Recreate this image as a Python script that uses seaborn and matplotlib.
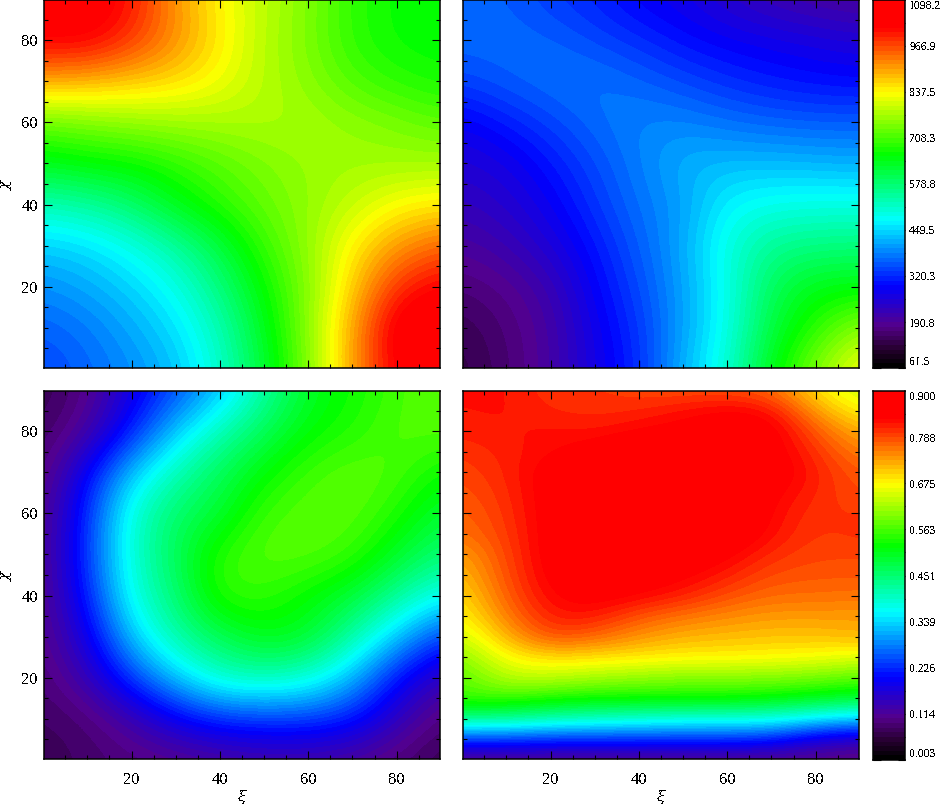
import numpy as np
import seaborn as sns
import matplotlib
matplotlib.use("Agg")
import matplotlib.pyplot as plt
from matplotlib.colors import LinearSegmentedColormap
from matplotlib.ticker import MultipleLocator

# grid positions (degrees), rows of the tables below run from chi low to chi high
grid = [0, 10, 20, 30, 40, 50, 60, 70, 80, 90]
grid_fine = [0, 5, 10, 15, 20, 25, 30, 35, 40, 45, 50, 55, 60, 65, 70, 75, 80, 85, 90]

top_left = [
    [340, 365, 395, 430, 510, 625, 745, 905, 1040, 1060],
    [360, 380, 415, 455, 530, 640, 755, 900, 1060, 1080],
    [395, 415, 445, 490, 570, 665, 750, 870, 990, 1030],
    [440, 455, 490, 545, 615, 700, 760, 845, 910, 950],
    [530, 545, 585, 645, 690, 730, 760, 795, 835, 850],
    [640, 660, 665, 690, 720, 745, 765, 770, 770, 770],
    [730, 745, 760, 770, 775, 780, 775, 760, 745, 725],
    [900, 890, 875, 860, 830, 785, 755, 715, 690, 675],
    [1030, 1035, 985, 920, 850, 785, 745, 690, 665, 660],
    [1060, 1060, 1010, 910, 840, 790, 750, 690, 665, 660],
]
top_right = [
    [130, 160, 200, 268, 320, 425, 505, 650, 750, 840],
    [140, 165, 200, 275, 330, 410, 490, 620, 690, 760],
    [165, 180, 215, 290, 345, 410, 490, 600, 650, 650],
    [195, 215, 255, 305, 360, 415, 500, 560, 570, 575],
    [225, 245, 280, 330, 375, 405, 475, 490, 495, 495],
    [250, 265, 305, 345, 385, 425, 430, 430, 425, 420],
    [280, 310, 340, 370, 390, 390, 375, 365, 360, 360],
    [340, 360, 375, 380, 365, 345, 325, 310, 300, 295],
    [370, 370, 365, 345, 325, 300, 285, 275, 265, 255],
    [365, 360, 335, 315, 285, 270, 240, 215, 200, 190],
]
bottom_left = [
    [.07, .085, .095, .10, .11, .12, .12, .11, .09, .07],
    [.08, .09, .13, .19, .23, .24, .24, .22, .15, .09],
    [.09, .14, .24, .33, .40, .41, .39, .32, .21, .14],
    [.10, .18, .33, .42, .47, .515, .50, .42, .33, .24],
    [.10, .22, .38, .45, .555, .55, .52, .49, .43, .37],
    [.10, .24, .39, .47, .55, .575, .575, .555, .50, .45],
    [.10, .23, .39, .46, .49, .56, .575, .575, .54, .49],
    [.09, .20, .33, .41, .47, .52, .56, .58, .565, .525],
    [.08, .12, .22, .33, .41, .47, .52, .54, .57, .57],
    [.07, .10, .18, .25, .32, .42, .50, .53, .56, .58],
]
bottom_right = [
    [.10, .10, .10, .10, .10, .10, .10, .10, .10, .09],
    [.24, .24, .23, .23, .23, .23, .23, .22, .17, .15],
    [.43, .43, .41, .40, .39, .38, .38, .38, .35, .33],
    [.56, .56, .54, .53, .53, .53, .53, .52, .505, .49],
    [.57, .635, .635, .62, .61, .60, .60, .60, .59, .575],
    [.60, .675, .695, .69, .685, .68, .68, .675, .67, .655],
    [.64, .72, .79, .77, .74, .72, .715, .71, .71, .72],
    [.67, .755, .82, .82, .78, .76, .745, .735, .735, .735],
    [.69, .775, .835, .85, .835, .815, .785, .765, .765, .76],
    [.71, .785, .845, .87, .86, .84, .815, .785, .78, .78],
    [.73, .79, .85, .88, .88, .87, .84, .805, .79, .79],
    [.76, .795, .85, .88, .89, .89, .87, .825, .795, .805],
    [.77, .80, .85, .88, .89, .89, .89, .83, .80, .80],
    [.78, .805, .85, .88, .89, .89, .89, .84, .81, .785],
    [.79, .81, .85, .88, .89, .89, .89, .86, .815, .775],
    [.80, .815, .83, .85, .88, .88, .87, .85, .805, .75],
    [.815, .82, .825, .82, .835, .845, .86, .855, .78, .72],
    [.82, .825, .81, .805, .81, .825, .84, .83, .735, .675],
    [.825, .825, .80, .80, .79, .785, .785, .77, .69, .64],
]

top_labels = ["1098.2", "966.9", "837.5", "708.3", "578.8", "449.5", "320.3", "190.8", "61.5"]
bottom_labels = ["0.900", "0.788", "0.675", "0.563", "0.451", "0.339", "0.226", "0.114", "0.003"]
top_range = (61.5, 1098.2)
bottom_range = (0.003, 0.900)

N_BANDS = 80
W, H = 942, 806

sns.set_theme(style="ticks")
plt.rcParams["font.family"] = ["Liberation Serif"]
plt.rcParams["text.antialiased"] = False
plt.rcParams["lines.antialiased"] = False

rainbow = LinearSegmentedColormap.from_list("rainbow_idl", [
    (0.0, (0, 0, 0)), (0.05, (0.16, 0, 0.2)), (0.11, (0.33, 0, 0.55)),
    (0.22, (0, 0, 1)), (0.40, (0, 1, 1)), (0.58, (0, 1, 0)),
    (0.75, (1, 1, 0)), (0.93, (1, 0, 0)), (1.0, (1, 0, 0))], N=N_BANDS)


def pixel_axes(x0, y0, x1, y1):
    return fig.add_axes([x0 / W, 1 - y1 / H, (x1 - x0) / W, (y1 - y0) / H])


def panel(rect, xs, ys, vals, vrange, xlabel, ylabel):
    ax = pixel_axes(*rect)
    dx = (xs[1] - xs[0]) / 2
    dy = (ys[1] - ys[0]) / 2
    ax.imshow(vals, origin="lower", extent=(xs[0] - dx, xs[-1] + dx, ys[0] - dy, ys[-1] + dy),
              cmap=rainbow, vmin=vrange[0], vmax=vrange[1], aspect="auto",
              interpolation="bicubic", interpolation_stage="data")
    ax.set_xlim(0.2, 89.8)
    ax.set_ylim(0.2, 89.8)
    ax.xaxis.set_major_locator(MultipleLocator(20))
    ax.yaxis.set_major_locator(MultipleLocator(20))
    ax.xaxis.set_minor_locator(MultipleLocator(5))
    ax.yaxis.set_minor_locator(MultipleLocator(5))
    ax.tick_params(which="both", direction="in", top=True, right=True, color="black", width=0.8)
    ax.tick_params(which="major", length=5.8, labelsize=12, labelcolor="black")
    ax.tick_params(which="minor", length=2.9)
    ax.tick_params(axis="x", which="major", pad=9)
    ax.tick_params(axis="y", which="major", pad=4.5)
    ax.tick_params(labelbottom=xlabel, labelleft=ylabel)
    if xlabel:
        fig.text((rect[0] + rect[2]) / 2 / W, 1 - 797 / H, "ξ", ha="center", va="center",
                 fontsize=11, style="italic", family="DejaVu Serif", color="black")
    if ylabel:
        fig.text(6 / W, 1 - ((rect[1] + rect[3]) / 2 + 1) / H, "χ", ha="center", va="center",
                 fontsize=11, style="italic", family="DejaVu Serif", color="black", rotation=90)
    for s in ax.spines.values():
        s.set_linewidth(1.1)
        s.set_color("black")
    return ax


def colorbar(rect, labels):
    ax = pixel_axes(*rect)
    shades = np.arange(N_BANDS, 0, -1)[:, None]
    sns.heatmap(shades, ax=ax, cmap=rainbow, cbar=False, xticklabels=False, yticklabels=False,
                vmin=0.5, vmax=N_BANDS + 0.5)
    pos = np.linspace(0, N_BANDS, len(labels))
    ax.set_yticks(pos)
    ax.set_yticks((pos[:-1] + pos[1:]) / 2, minor=True)
    ax.set_yticklabels(labels)
    ax.tick_params(which="both", direction="in", left=True, right=True, color="black", width=0.8)
    ax.tick_params(which="major", length=5.4, labelsize=8.4, pad=3, labelleft=False, labelright=True,
                   labelcolor="black")
    ax.tick_params(which="minor", length=2.9)
    for t in ax.get_yticklabels():
        t.set_rotation(0)
    ax.get_yticklabels()[0].set_va("top")
    ax.get_yticklabels()[-1].set_va("bottom")
    for s in ax.spines.values():
        s.set_visible(True)
        s.set_linewidth(1.1)
        s.set_color("black")
    return ax


fig = plt.figure(figsize=(W / 100, H / 100), dpi=100)

panel((44, 0, 440, 368), grid, grid, top_left, top_range, False, True)
panel((463, 0, 859, 368), grid, grid, top_right, top_range, False, False)
panel((44, 391, 440, 759), grid, grid, bottom_left, bottom_range, True, True)
panel((463, 391, 859, 759), grid, grid_fine, bottom_right, bottom_range, True, False)
colorbar((873, 0, 905, 368), top_labels)
colorbar((873, 391, 905, 760), bottom_labels)

fig.savefig("out.png", dpi=100)
